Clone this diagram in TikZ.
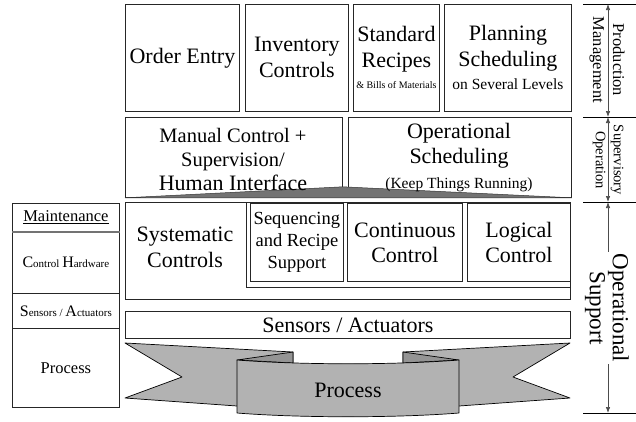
\documentclass[tikz,border=0pt]{standalone}
\usepackage{fontspec}
\setmainfont{Liberation Serif}
\usetikzlibrary{arrows.meta}
\usetikzlibrary{positioning}

\newcommand{\fs}[2]{\fontsize{#1}{#2}\selectfont}

\begin{document}
\begin{tikzpicture}[x=1pt, y=-1pt, >={Latex[length=6pt,width=4.5pt]},
    blk/.style={draw=black!85, line width=0.8pt, inner sep=1pt, align=center, anchor=north west, font=\fs{22}{26}},
    lcell/.style={draw=black!85, line width=0.8pt, inner sep=0pt, align=center, anchor=north west, minimum width=107pt},
    txt/.style={align=center, inner sep=0pt},
    rib/.style={draw=black, line width=0.7pt, fill=black!30, line join=round},
    fold/.style={draw=black, line width=0.7pt, fill=black!42, line join=round},
    tick/.style={draw=black, line width=0.7pt},
    arr/.style={draw=black!70, line width=0.7pt},
    side/.style={align=center, inner sep=2pt, rotate=-90}]
  \useasboundingbox (0,0) rectangle (636,421);

  \node[blk, minimum width=114pt, minimum height=107pt] (order) at (125,4) {Order Entry};
  \node[blk, minimum width=103pt, minimum height=107pt] (inv) at (245,4) {Inventory\\Controls};
  \node[blk, minimum width=86pt, minimum height=107pt] (std) at (353,4)
    {Standard\\Recipes\\[-5pt]{\fs{10}{12}\& Bills of Materials}};
  \node[blk, minimum width=127pt, minimum height=107pt] (plan) at (444,4)
    {Planning\\Scheduling\\[-3pt]{\fs{15.5}{18}on Several Levels}};

  \node[blk, minimum width=217pt, minimum height=80pt] (manual) at (125,117) {};
  \node[blk, minimum width=223pt, minimum height=80pt] (oper) at (348,117) {};
  \fill[draw=black!80, line width=0.5pt, fill=black!55] (manual.south west) -- ([yshift=11pt]manual.south east) -- (oper.south east) -- cycle;
  \node[txt, font=\fs{20.5}{24}] (mantxt) at (233,159) {Manual Control +\\Supervision/\\{\fs{22}{24}Human Interface}};
  \node[txt, font=\fs{22}{25}] (opertxt) at (459,158) {Operational\\Scheduling\\{\fs{15.5}{24}(Keep Things Running)}};

  \node[blk, minimum width=445pt, minimum height=97pt] (sys) at (125,202) {};
  \coordinate (corner) at (246,287);
  \draw[draw=black!85, line width=0.8pt] (corner |- sys.north) -- (corner) -- (corner -| sys.east);
  \node[txt, font=\fs{22}{26}] (systxt) at (185,247) {Systematic\\Controls};
  \node[blk, minimum width=93pt, minimum height=78pt, font=\fs{18.5}{22}] (seq) at (250,203) {Sequencing\\and Recipe\\Support};
  \node[blk, minimum width=115pt, minimum height=78pt, font=\fs{22}{25}] (cont) at (347,203) {Continuous\\Control};
  \node[blk, minimum width=103pt, minimum height=78pt, font=\fs{22}{25}] (logic) at (467,203) {Logical\\Control};

  \node[blk, minimum width=445pt, minimum height=27pt] (sens) at (125,311) {Sensors / Actuators};

  \filldraw[rib] (125,343) -- (293,352) -- (293,400) -- (237,406) -- (125,398) -- (182,377) -- cycle;
  \filldraw[rib] (570,343) -- (403,352) -- (403,400) -- (459,406) -- (570,398) -- (513,377) -- cycle;
  \filldraw[fold] (237,360) -- (293,352) -- (293,363) -- cycle;
  \filldraw[fold] (459,360) -- (403,352) -- (403,363) -- cycle;
  \filldraw[rib] (237,360) .. controls (300,365) and (396,365) .. (459,360) -- (459,413)
    .. controls (396,418) and (300,418) .. (237,413) -- cycle;
  \node[txt, font=\fs{22}{26}] (proc) at (348,390) {Process};

  \node[lcell, minimum height=28pt, font=\fs{16.5}{20}] (maint) at (12,203) {\underline{Maintenance}};
  \node[lcell, minimum height=62pt] (ctrlhw) at (12,231)
    {{\fs{16}{20}C}{\fs{11}{20}ontrol }{\fs{16}{20}H}{\fs{11}{20}ardware}};
  \node[lcell, minimum height=35pt] (sensl) at (12,293)
    {{\fs{16}{20}S}{\fs{11}{20}ensors / }{\fs{16}{20}A}{\fs{11}{20}ctuators}};
  \node[lcell, minimum height=79pt, font=\fs{16.5}{20}] (procl) at (12,328) {Process};
  \draw[black!55, line width=1.6pt] (maint.south west) -- (maint.south east);

  \coordinate (a0) at (608,4);
  \coordinate (a1) at (608,117);
  \coordinate (a2) at (608,202);
  \coordinate (a3) at (608,413);
  \foreach \c in {a0,a1,a2,a3}
    \draw[tick] ([xshift=-25pt]\c) -- ([xshift=28pt]\c);
  \draw[arr,<->] (a0) -- (a1);
  \draw[arr,<->] (a1) -- (a2);
  \draw[arr,<->] (a2) -- (a3);
  \node[side, font=\fs{16.5}{20}] (prodmgmt) at (607,60) {Production\\Management};
  \node[side, font=\fs{14.5}{18}] (supop) at (608,160) {Supervisory\\Operation};
  \node[side, fill=white, font=\fs{23}{23}] (opsup) at (607,308) {Operational\\Support};
\end{tikzpicture}
\end{document}
